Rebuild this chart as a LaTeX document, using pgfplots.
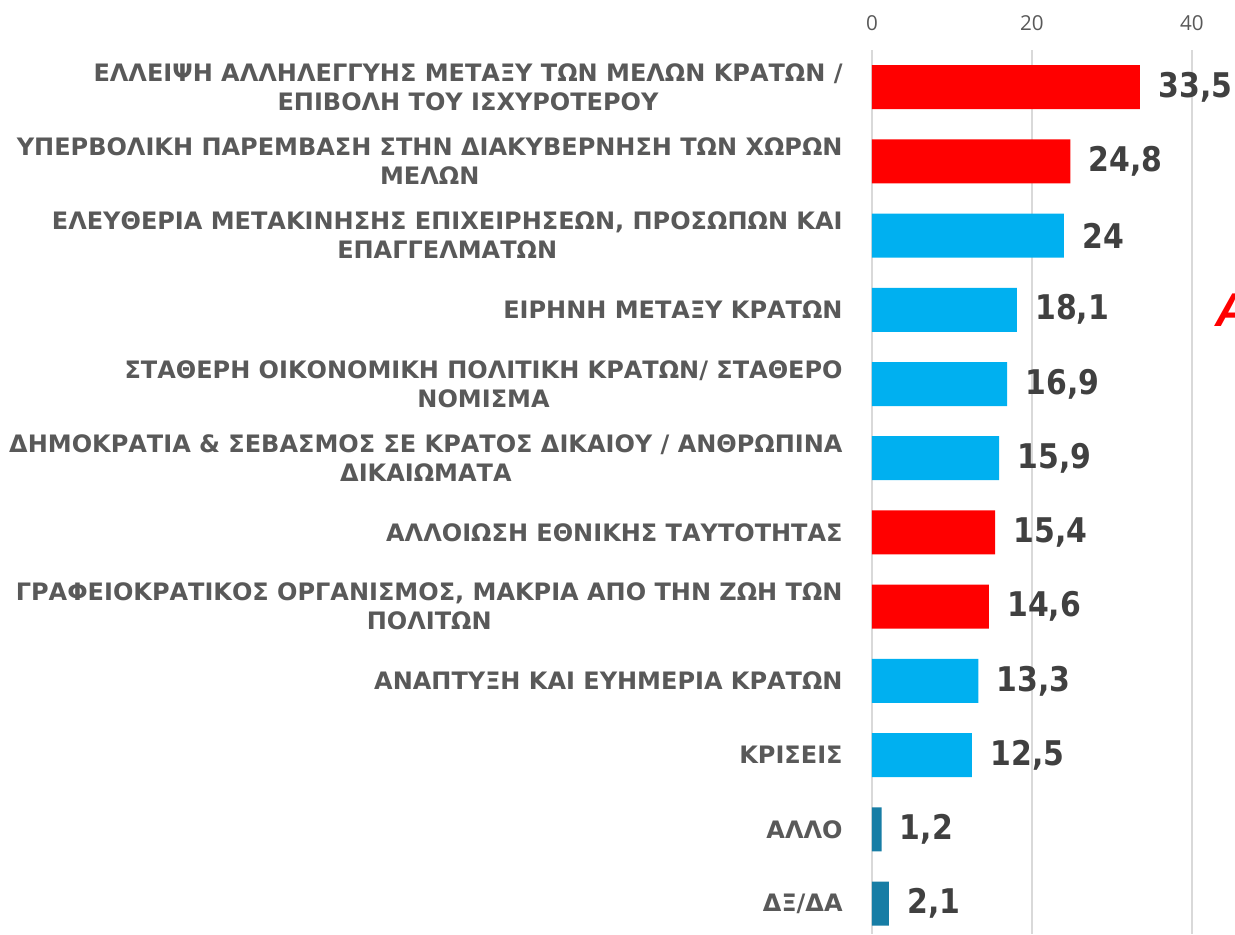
\documentclass[border=0pt]{standalone}
\usepackage{pgfplots}
\usepackage{pgfplotstable}
\pgfplotsset{compat=1.18}
\usepackage{fontspec}
\setmainfont{DejaVu Sans}
\newfontfamily\valfont[FakeStretch=0.88]{DejaVu Sans}
\newfontfamily\tickfont{Open Sans}
\newfontfamily\arialfont{Liberation Sans}
\definecolor{cred}{RGB}{255,0,0}
\definecolor{cblue}{RGB}{0,176,240}
\definecolor{cteal}{RGB}{23,125,165}
\definecolor{labgray}{RGB}{89,89,89}
\definecolor{valgray}{RGB}{64,64,64}
\definecolor{gridgray}{RGB}{217,217,217}

\pgfplotstableread{
x y lab
33.5 0 33,5
24.8 1 24,8
15.4 6 15,4
14.6 7 14,6
}\redtab
\pgfplotstableread{
x y lab
24 2 24
18.1 3 18,1
16.9 4 16,9
15.9 5 15,9
13.3 8 13,3
12.5 9 12,5
}\bluetab
\pgfplotstableread{
x y lab
1.2 10 1,2
2.1 11 2,1
}\tealtab

\begin{document}
\begin{tikzpicture}
\begin{axis}[
  xbar, bar shift=0pt,
  width=181.5pt, height=442pt, scale only axis,
  xmin=0, xmax=45.375, ymin=-0.5, ymax=11.41, y dir=reverse,
  axis line style={draw=none},
  xtick={0,20,40}, xticklabel pos=upper,
  xmajorgrids, grid style={gridgray, line width=1pt},
  major tick length=0pt,
  ytick={0,...,11},
  yticklabels={
    {ΕΛΛΕΙΨΗ ΑΛΛΗΛΕΓΓΥΗΣ ΜΕΤΑΞΥ ΤΩΝ ΜΕΛΩΝ ΚΡΑΤΩΝ /\\ΕΠΙΒΟΛΗ ΤΟΥ ΙΣΧΥΡΟΤΕΡΟΥ},
    {ΥΠΕΡΒΟΛΙΚΗ ΠΑΡΕΜΒΑΣΗ ΣΤΗΝ ΔΙΑΚΥΒΕΡΝΗΣΗ ΤΩΝ ΧΩΡΩΝ\\ΜΕΛΩΝ},
    {ΕΛΕΥΘΕΡΙΑ ΜΕΤΑΚΙΝΗΣΗΣ ΕΠΙΧΕΙΡΗΣΕΩΝ, ΠΡΟΣΩΠΩΝ ΚΑΙ\\ΕΠΑΓΓΕΛΜΑΤΩΝ},
    {ΕΙΡΗΝΗ ΜΕΤΑΞΥ ΚΡΑΤΩΝ},
    {ΣΤΑΘΕΡΗ ΟΙΚΟΝΟΜΙΚΗ ΠΟΛΙΤΙΚΗ ΚΡΑΤΩΝ/ ΣΤΑΘΕΡΟ\\ΝΟΜΙΣΜΑ},
    {ΔΗΜΟΚΡΑΤΙΑ \& ΣΕΒΑΣΜΟΣ ΣΕ ΚΡΑΤΟΣ ΔΙΚΑΙΟΥ / ΑΝΘΡΩΠΙΝΑ\\ΔΙΚΑΙΩΜΑΤΑ},
    {ΑΛΛΟΙΩΣΗ ΕΘΝΙΚΗΣ ΤΑΥΤΟΤΗΤΑΣ},
    {ΓΡΑΦΕΙΟΚΡΑΤΙΚΟΣ ΟΡΓΑΝΙΣΜΟΣ, ΜΑΚΡΙΑ ΑΠΟ ΤΗΝ ΖΩΗ ΤΩΝ\\ΠΟΛΙΤΩΝ},
    {ΑΝΑΠΤΥΞΗ ΚΑΙ ΕΥΗΜΕΡΙΑ ΚΡΑΤΩΝ},
    {ΚΡΙΣΕΙΣ},
    {ΑΛΛΟ},
    {ΔΞ/ΔΑ}},
  yticklabel style={font=\bfseries\fontsize{12}{14.5}\selectfont, text=labgray, align=center, anchor=east, inner sep=0pt, xshift=-14.5pt},
  xticklabel style={font=\tickfont\fontsize{10.3}{11}\selectfont, text=labgray, anchor=south, inner sep=0pt, yshift=9.6pt},
  /pgf/number format/assume math mode=true,
  bar width=22pt,
  nodes near coords, point meta=explicit symbolic,
  nodes near coords style={font=\valfont\bfseries\fontsize{17}{17}\selectfont, text=valgray, anchor=west, inner sep=0pt, xshift=9pt},
  clip=false,
]
\addplot[draw=none, fill=cred] table[x=x, y=y, meta=lab] {\redtab};
\addplot[draw=none, fill=cblue] table[x=x, y=y, meta=lab] {\bluetab};
\addplot[draw=none, fill=cteal] table[x=x, y=y, meta=lab] {\tealtab};
\node[anchor=west, inner sep=0pt, text=cred, font=\arialfont\bfseries\itshape\fontsize{23.7}{24}\selectfont] at (axis cs:42.9,3) {Α};
\end{axis}
\pgfresetboundingbox
\path[use as bounding box] ([xshift=-436pt]current axis.south west) rectangle ([yshift=25pt]current axis.north east);
\end{tikzpicture}
\end{document}
